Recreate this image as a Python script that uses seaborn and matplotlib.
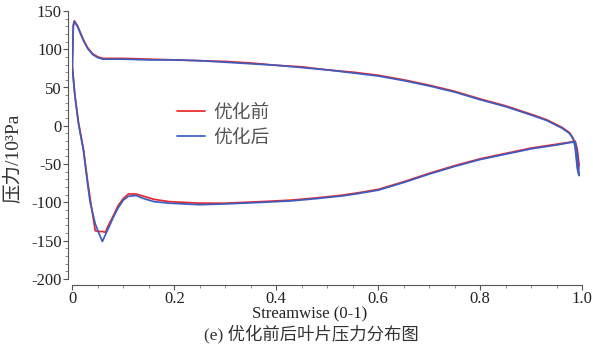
import pandas as pd
import matplotlib
matplotlib.use("Agg")
import matplotlib.pyplot as plt
from matplotlib.ticker import MultipleLocator
import seaborn as sns

sns.set_theme(style="ticks")
plt.rcParams['font.family'] = ['Liberation Serif', 'Noto Sans CJK SC']
plt.rcParams['axes.unicode_minus'] = False

# 数据
upper_s = [0, 0.002, 0.004, 0.01, 0.015, 0.022, 0.03, 0.04, 0.05, 0.06, 0.08, 0.1,
           0.15, 0.2, 0.25, 0.3, 0.35, 0.4, 0.45, 0.5, 0.55, 0.6, 0.65, 0.7, 0.75,
           0.8, 0.85, 0.9, 0.93, 0.96, 0.975, 0.982, 0.986, 0.99, 0.993]
upper_before = [80, 132, 137, 131, 123, 112, 102, 94, 90, 88, 88, 88,
                87, 86, 85, 84, 82, 79, 77, 73, 70, 66, 60, 53, 45,
                35, 26, 15, 8, -2, -9, -16, -25, -48, -55]
upper_after = [75, 130, 136, 130, 122, 111, 101, 93, 89, 87, 87, 87,
               86, 86, 85, 83, 81, 79, 76, 73, 69, 65, 59, 52, 44,
               34, 25, 14, 7, -3, -10, -17, -28, -55, -64]

lower_s = [0, 0.005, 0.012, 0.022, 0.03, 0.035, 0.045, 0.052, 0.059, 0.065, 0.07,
           0.08, 0.09, 0.1, 0.11, 0.125, 0.14, 0.16, 0.19, 0.25, 0.3, 0.37, 0.43,
           0.48, 0.53, 0.56, 0.6, 0.65, 0.7, 0.75, 0.8, 0.85, 0.9, 0.95, 0.975,
           0.986, 0.99, 0.994]
lower_before = [80, 40, 5, -31, -72, -95, -137, -138, -138, -139, -131,
                -118, -104, -95, -89, -89, -92, -96, -99, -101, -101, -99, -97,
                -94, -90.5, -87.5, -83, -73, -62, -52, -43, -36, -29, -24, -21.5,
                -20, -30, -52]
lower_after = [75, 40, 3, -33, -76, -100, -128, -140, -151, -142, -135,
               -120, -107, -97, -92, -91, -95, -99, -101, -103, -102, -100, -98,
               -95, -91.5, -88.5, -84, -74, -63, -53, -44, -37, -30, -25, -22,
               -21, -35, -65]

version_labels = ['优化前', '优化后']
line_colors = ['#e8282c', '#3d5cc0']

x_ticks = [0, 0.2, 0.4, 0.6, 0.8, 1.0]
x_tick_labels = ['0', '0.2', '0.4', '0.6', '0.8', '1.0']
y_ticks = [-200, -150, -100, -50, 0, 50, 100, 150]


def build_frame():
    rows = []
    for label, up, low in [(version_labels[0], upper_before, lower_before),
                           (version_labels[1], upper_after, lower_after)]:
        for s, p in zip(upper_s, up):
            rows.append({'s': s, 'p': p, 'version': label, 'side': label + '_upper'})
        for s, p in zip(lower_s, low):
            rows.append({'s': s, 'p': p, 'version': label, 'side': label + '_lower'})
    return pd.DataFrame(rows)


df = build_frame()

fig = plt.figure(figsize=(5.93, 3.5), dpi=100)
ax = fig.add_axes([72.3 / 593, 71 / 350, 510 / 593, 268.1 / 350])

sns.lineplot(data=df, x='s', y='p', hue='version', units='side', estimator=None,
             sort=False, hue_order=version_labels,
             palette=dict(zip(version_labels, line_colors)),
             linewidth=1.25, ax=ax)

ax.set_xlim(0, 1.0)
ax.set_ylim(-200, 150)
ax.set_xticks(x_ticks)
ax.set_xticklabels(x_tick_labels)
ax.set_yticks(y_ticks)
ax.xaxis.set_minor_locator(MultipleLocator(0.05))
ax.yaxis.set_minor_locator(MultipleLocator(10))

sns.despine(ax=ax)
ax.spines['left'].set_position(('outward', 4 * 0.72))
ax.spines['bottom'].set_position(('outward', 6 * 0.72))
for sp in ['left', 'bottom']:
    ax.spines[sp].set_color('#555555')
    ax.spines[sp].set_linewidth(0.8)

ax.tick_params(which='major', direction='out', length=3.8, width=0.8,
               color='#555555', labelsize=12, labelcolor='#222222', pad=0.8)
ax.tick_params(axis='x', which='major', pad=0.2)
ax.tick_params(which='minor', direction='out', length=2.2, width=0.6,
               color='#777777')

ax.set_xlabel('Streamwise (0-1)', fontsize=12, color='#222222')
ax.xaxis.set_label_coords(0.466, -0.102)
ax.set_ylabel('压力/10³Pa', fontsize=14, color='#333333')
ax.yaxis.set_label_coords(-0.098, 0.45)

leg = ax.legend(loc='upper left', bbox_to_anchor=(177 / 593, 1 - 102 / 350),
                bbox_transform=fig.transFigure, frameon=False,
                prop={'family': ['Noto Sans CJK SC'], 'size': 13.5},
                handlelength=1.5, handletextpad=0.45, labelspacing=0.2,
                borderpad=0, borderaxespad=0)
for t in leg.get_texts():
    t.set_color('#555555')
for h in leg.get_lines():
    h.set_linewidth(1.25)

fig.text(311 / 593, 1 - 334 / 350, '(e) 优化前后叶片压力分布图', ha='center', va='center',
         fontsize=12.5, color='#333333',
         family=['Liberation Serif', 'Noto Sans CJK SC'])

fig.savefig('out.png', dpi=100)
